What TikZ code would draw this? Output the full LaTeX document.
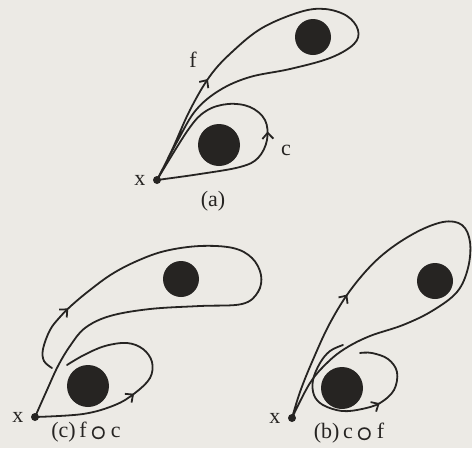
\documentclass[tikz,border=0pt]{standalone}
\usepackage{fontspec}
\setmainfont{Liberation Serif}
\usetikzlibrary{arrows.meta,decorations.markings}
\definecolor{paper}{RGB}{236,234,229}
\definecolor{ink}{RGB}{38,36,34}
\newcommand{\compo}{\,\raisebox{-3pt}{\scalebox{1.4}{\boldmath$\circ$}}\,}

\begin{document}
\begin{tikzpicture}[x=1pt,y=-1pt,
  loopline/.style={draw=ink,line width=1.8pt,line cap=round},
  hole/.style={circle,fill=ink,inner sep=0pt,minimum size=#1},
  basept/.style={circle,fill=ink,inner sep=0pt,minimum size=8pt},
  midarrow/.style={postaction={decorate},decoration={markings,
      mark=at position #1 with {\arrow{Straight Barb[length=6pt,width=11pt]}}}},
  lbl/.style={text=ink,font=\fontsize{22}{24}\selectfont}]

\fill[paper] (0,0) rectangle (472,448);
\useasboundingbox (0,0) rectangle (472,448);

% base points
\coordinate (pa) at (157,180);
\coordinate (pc) at (35,417);
\coordinate (pb) at (292,418);

%%% (a)
\node[hole=36pt] (holeAf) at (313,37) {};
\node[hole=42pt] (holeAc) at (219,145) {};
\draw[loopline,midarrow=0.2] plot[smooth,tension=0.6] coordinates {
  (pa) (172,150) (190,110) (210,76) (232,52) (262,28) (300,12) (325,9)
  (347,16) (358,30) (354,44) (330,58) (290,69) (250,77) (220,90)
  (196,110) (178,140) (pa)};
\draw[loopline,midarrow=0.45] plot[smooth,tension=0.6] coordinates {
  (pa) (200,174) (240,167) (258,158) (267,140) (265,120) (250,107)
  (228,104) (206,111) (188,130) (pa)};
\node[basept] (xa) at (pa) {};
\node[lbl,left=8pt] (labxa) at (pa) {x};
\node[lbl] (labf) at (193,60) {f};
\node[lbl] (labc) at (286,150) {c};
\node[lbl] (capa) at (213,201) {(a)};

%%% (c)
\node[hole=36pt] (holeCf) at (181,279) {};
\node[hole=42pt] (holeCc) at (88,386) {};
\draw[loopline,midarrow=0.43] plot[smooth,tension=0.6] coordinates {
  (pc) (83,414) (115,405) (135,393) (150,378) (152,362) (143,349)
  (127,343) (105,346) (84,355) (67,365)};
\draw[loopline,midarrow=0.12] plot[smooth,tension=0.6] coordinates {
  (52,368) (44,361) (43,349) (50,330) (60,317) (72,305) (90,290)
  (112,274) (137,261) (165,251) (200,246) (233,248) (252,258)
  (261,275) (258,292) (242,304) (200,306) (150,309) (110,316)
  (85,328) (70,346) (58,366) (47,390) (pc)};
\node[basept] (xc) at (pc) {};
\node[lbl,left=8pt] (labxc) at (pc) {x};
\node[lbl] (capc) at (86,432) {(c)\,f\compo c};

%%% (b)
\node[hole=36pt] (holeBf) at (435,281) {};
\node[hole=42pt] (holeBc) at (342,388) {};
\draw[loopline,midarrow=0.24] plot[smooth,tension=0.6] coordinates {
  (pb) (300,392) (312,362) (330,323) (352,288) (380,257) (413,234)
  (443,222) (462,225) (470,242) (468,268) (457,292) (432,311)
  (403,325) (370,336) (346,348) (328,362) (310,383) (pb)};
\draw[loopline,midarrow=0.62] plot[smooth,tension=0.6] coordinates {
  (343,345) (330,351) (320,363) (313,380) (314,395) (323,405)
  (342,411) (362,409) (380,403) (394,390) (397,372) (388,359)
  (372,353) (360,353)};
\node[basept] (xb) at (pb) {};
\node[lbl,left=8pt] (labxb) at (pb) {x};
\node[lbl] (capb) at (349,433) {(b)\,c\compo f};

\end{tikzpicture}
\end{document}
